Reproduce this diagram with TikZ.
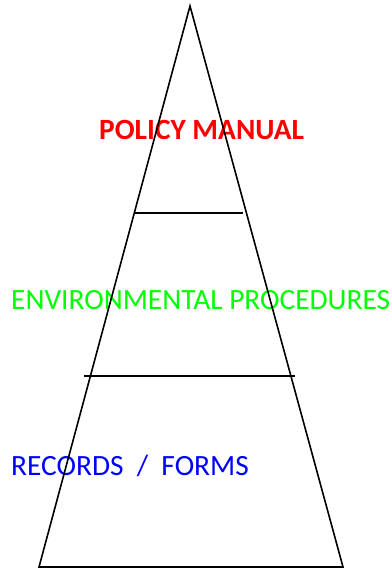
\documentclass[tikz,border=0pt]{standalone}
\usepackage{fontspec}
\setmainfont{Carlito}
\begin{document}
\begin{tikzpicture}[x=1pt,y=-1pt,
  edge/.style={line width=1.6pt,black},
  lbl/.style={anchor=base west,inner sep=0pt,font=\fontsize{29.4}{34}\selectfont}]
\useasboundingbox (0,0) rectangle (391,569);
\node[lbl,text=red,font=\bfseries\fontsize{29.4}{34}\selectfont] (policy) at (99,140) {POLICY MANUAL};
\node[lbl,text={rgb,255:red,0;green,255;blue,0}] (env) at (11,309) {ENVIRONMENTAL PROCEDURES};
\node[lbl,text={rgb,255:red,0;green,0;blue,255}] (rec) at (11,475) {RECORDS~~/~~FORMS};
\coordinate (apex) at (190,6);
\coordinate (bl) at (39,567);
\coordinate (br) at (343,567);
\coordinate (a1) at (135,213);
\coordinate (a2) at (243,213);
\coordinate (b1) at (84,376);
\coordinate (b2) at (295,376);
\draw[edge,line join=miter] (bl) -- (apex) -- (br) -- cycle;
\draw[edge] (a1) -- (a2);
\draw[edge] (b1) -- (b2);
\end{tikzpicture}
\end{document}
